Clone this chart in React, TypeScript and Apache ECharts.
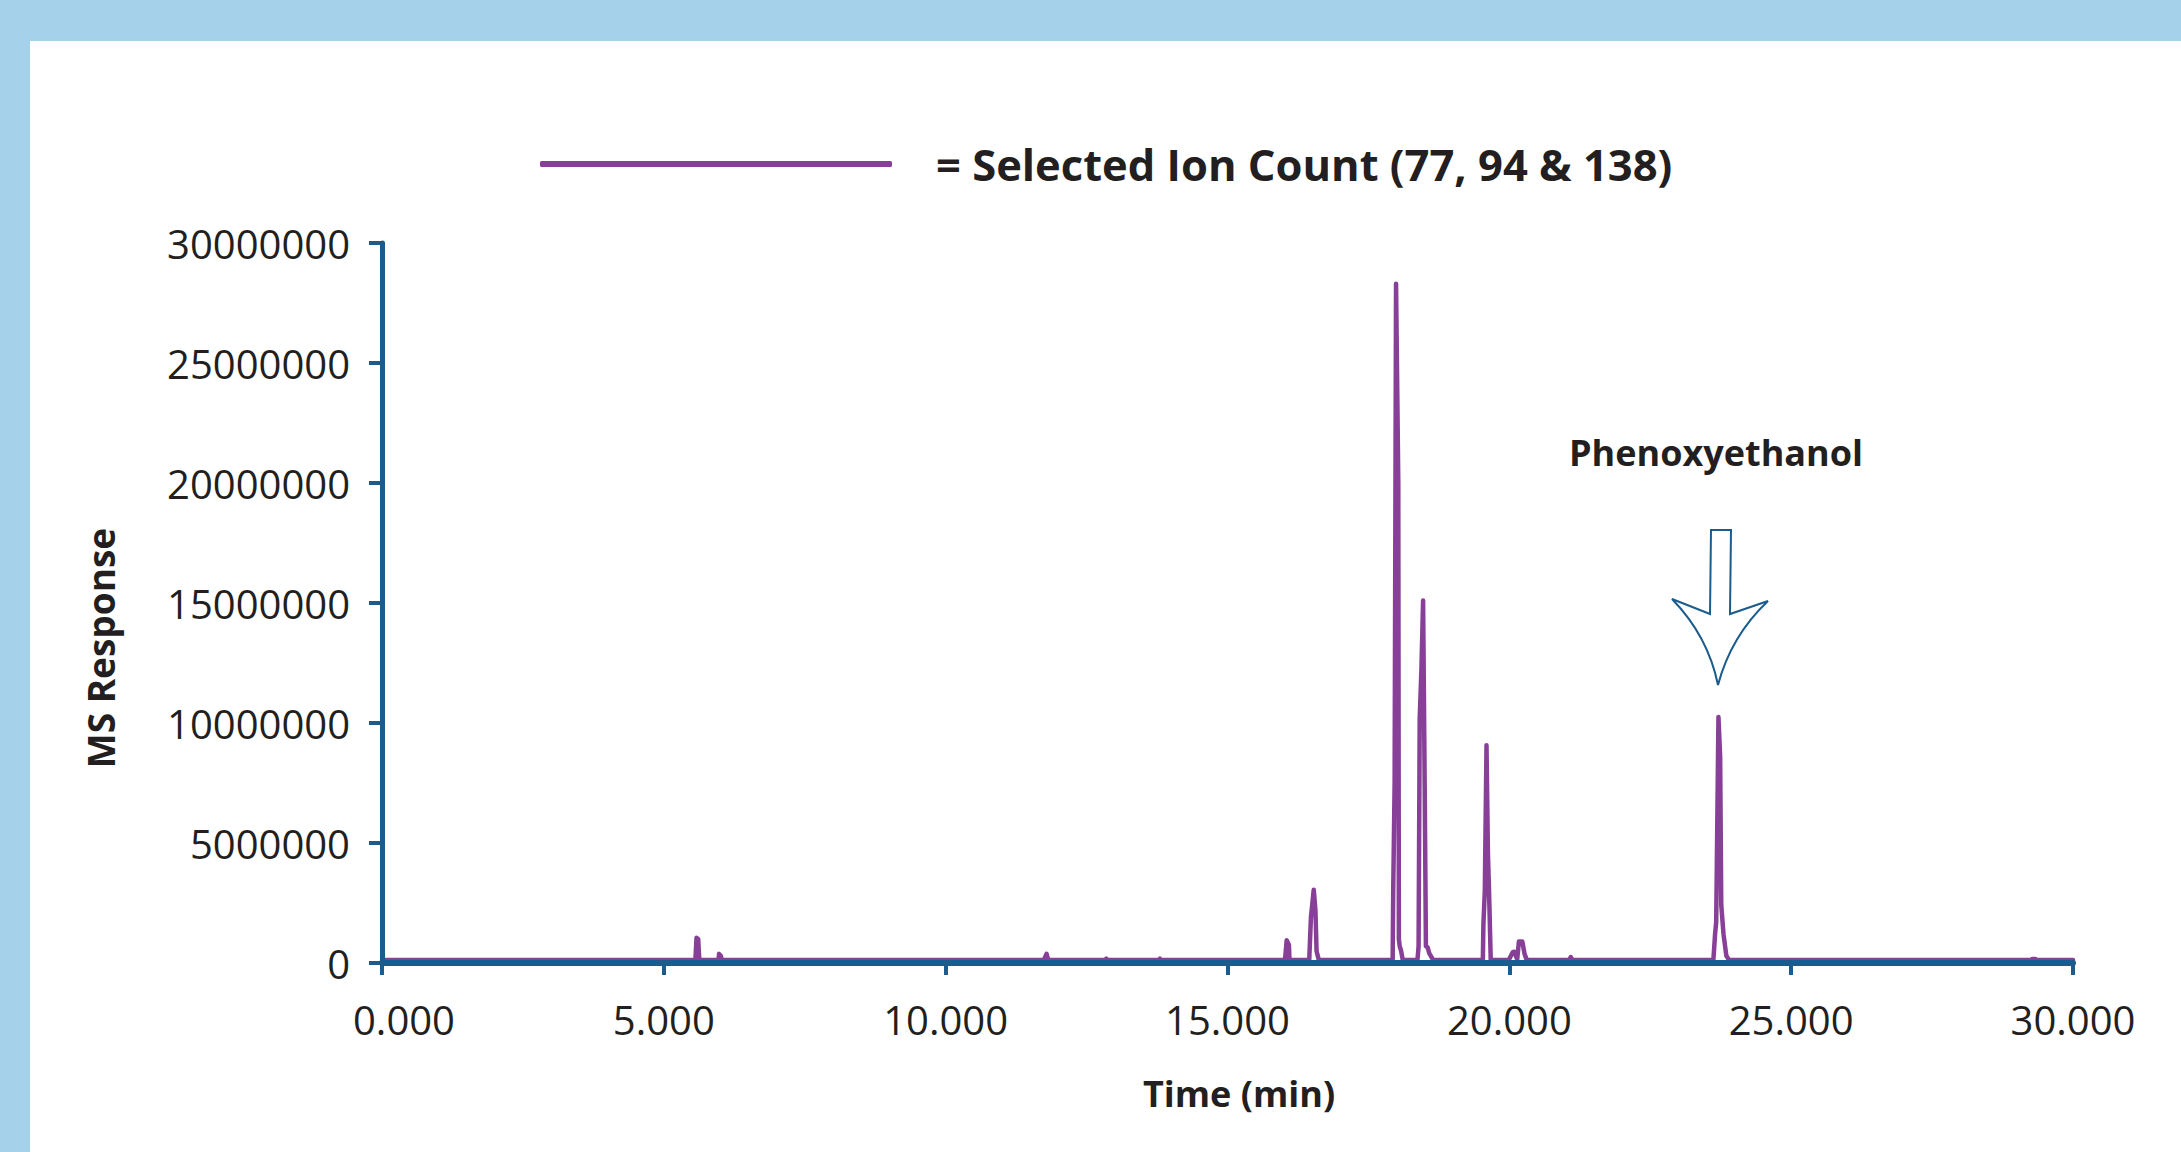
import React, { useEffect, useRef } from "react";
import * as echarts from "echarts";

// ---- data ----
const times: number[] = [
  0.0,
  5.56, 5.58, 5.61, 5.62, 5.63,
  5.97, 5.98, 6.01, 6.03,
  11.74, 11.79, 11.82,
  12.82, 12.85, 12.88,
  13.77, 13.8, 13.83,
  16.02, 16.05, 16.09, 16.1,
  16.45, 16.48, 16.53, 16.56, 16.58, 16.62,
  17.93, 17.94, 17.965, 17.99, 18.03, 18.04, 18.055, 18.08, 18.11,
  18.37, 18.39, 18.41, 18.44, 18.47, 18.5, 18.52, 18.55, 18.58, 18.65,
  19.53, 19.54, 19.565, 19.595, 19.62, 19.64, 19.67,
  19.99, 20.06, 20.09, 20.14, 20.17, 20.23, 20.27, 20.31,
  21.06, 21.09, 21.12,
  23.62, 23.65, 23.67, 23.71, 23.74, 23.76, 23.8, 23.85, 23.9,
  29.25, 29.28, 29.33, 29.36,
  30.0,
];
const responses: number[] = [
  120000,
  120000, 1050000, 1000000, 500000, 120000,
  120000, 380000, 300000, 120000,
  120000, 380000, 120000,
  120000, 180000, 120000,
  120000, 180000, 120000,
  120000, 950000, 750000, 120000,
  120000, 1900000, 3050000, 2200000, 500000, 120000,
  120000, 3000000, 7500000, 28300000, 20000000, 1000000, 700000, 500000, 120000,
  120000, 700000, 10200000, 12200000, 15100000, 6900000, 700000, 650000, 400000, 120000,
  120000, 1600000, 3000000, 9070000, 4600000, 3000000, 120000,
  120000, 450000, 470000, 150000, 900000, 900000, 380000, 120000,
  120000, 250000, 120000,
  120000, 1200000, 1700000, 10250000, 8600000, 2400000, 1200000, 300000, 120000,
  120000, 170000, 170000, 120000,
  120000,
];
const xTickValues: number[] = [0, 5, 10, 15, 20, 25, 30];
const yTickValues: number[] = [0, 5000000, 10000000, 15000000, 20000000, 25000000, 30000000];
const seriesName = "Selected Ion Count (77, 94 & 138)";
const peakLabel = "Phenoxyethanol";
const xAxisTitle = "Time (min)";
const yAxisTitle = "MS Response";

const ARROW_D =
  "M1711,530 L1731,530 L1730,614 L1768,601 Q1731,636 1718,685 Q1708,636 1672,599 L1710,614 Z";
echarts.graphic.registerShape("downArrow", echarts.graphic.extendPath(ARROW_D, {}) as any);

const AXIS = "#1b5c8c";
const PURPLE = "#873f97";
const TEXT = "#231f20";
const FONT = "'Open Sans', 'Noto Sans', sans-serif";

export default function App() {
  const ref = useRef<HTMLDivElement>(null);
  useEffect(() => {
    if (!ref.current) return;
    const chart = echarts.init(ref.current, undefined, { renderer: "svg" });
    const data = times.map((t, i) => [t, responses[i]]);
    chart.setOption({
      animation: false,
      backgroundColor: "#a6d1ea",
      textStyle: { fontFamily: FONT },
      grid: { left: 382, right: 108, top: 243, bottom: 189, containLabel: false },
      legend: {
        left: 540,
        top: 142,
        padding: 0,
        itemWidth: 352,
        itemHeight: 6,
        icon: "roundRect",
        data: [{ name: seriesName, itemStyle: { color: PURPLE } }],
        formatter: (n: string) => "= " + n,
        textStyle: {
          fontFamily: FONT,
          fontSize: 43.5,
          fontWeight: "bold",
          color: TEXT,
          padding: [0, 0, 0, 39],
        },
      },
      xAxis: {
        type: "value",
        z: 4,
        min: xTickValues[0],
        max: xTickValues[xTickValues.length - 1],
        interval: 5,
        axisLine: { show: true, onZero: false, lineStyle: { color: AXIS, width: 6 } },
        axisTick: { show: true, length: 12, lineStyle: { color: AXIS, width: 4 } },
        splitLine: { show: false },
        axisLabel: {
          margin: 36,
          fontSize: 40,
          color: TEXT,
          fontFamily: FONT,
          formatter: (v: number) => (v === 0 ? "{first|" + v.toFixed(3) + "}" : v.toFixed(3)),
          rich: {
            first: { fontSize: 40, color: TEXT, fontFamily: FONT, padding: [0, 0, 0, 44] },
          },
        },
      },
      yAxis: {
        type: "value",
        z: 4,
        min: yTickValues[0],
        max: yTickValues[yTickValues.length - 1],
        interval: 5000000,
        axisLine: { show: true, lineStyle: { color: AXIS, width: 5 } },
        axisTick: { show: true, length: 13, lineStyle: { color: AXIS, width: 4 } },
        splitLine: { show: false },
        axisLabel: {
          margin: 32,
          fontSize: 40,
          color: TEXT,
          fontFamily: FONT,
          formatter: (v: number) => String(v),
        },
      },
      series: [
        {
          name: seriesName,
          type: "line",
          data,
          showSymbol: false,
          symbol: "none",
          lineStyle: { color: PURPLE, width: 4.5, join: "round", cap: "round" },
          itemStyle: { color: PURPLE },
          z: 3,
        },
      ],
      graphic: [
        {
          type: "rect",
          z: -10,
          silent: true,
          shape: { x: 30, y: 41, width: 2151, height: 1111 },
          style: { fill: "#ffffff" },
        },
        {
          type: "text",
          x: 1716,
          y: 452,
          style: {
            text: peakLabel,
            fontFamily: FONT,
            fontSize: 36,
            fontWeight: "bold",
            fill: TEXT,
            textAlign: "center",
            textVerticalAlign: "middle",
          },
        },
        {
          type: "downArrow",
          x: 0,
          y: 0,
          style: { fill: "#ffffff", stroke: AXIS, lineWidth: 2 },
        },
        {
          type: "text",
          x: 1239,
          y: 1093,
          style: {
            text: xAxisTitle,
            fontFamily: FONT,
            fontSize: 36,
            fontWeight: "bold",
            fill: TEXT,
            textAlign: "center",
            textVerticalAlign: "middle",
          },
        },
        {
          type: "text",
          x: 100,
          y: 648,
          rotation: Math.PI / 2,
          style: {
            text: yAxisTitle,
            fontFamily: FONT,
            fontSize: 37,
            fontWeight: "bold",
            fill: TEXT,
            textAlign: "center",
            textVerticalAlign: "middle",
          },
        },
      ],
    });
    return () => chart.dispose();
  }, []);
  return (
    <div
      ref={ref}
      style={{ position: "fixed", left: 0, top: 0, width: 2181, height: 1152 }}
    />
  );
}
